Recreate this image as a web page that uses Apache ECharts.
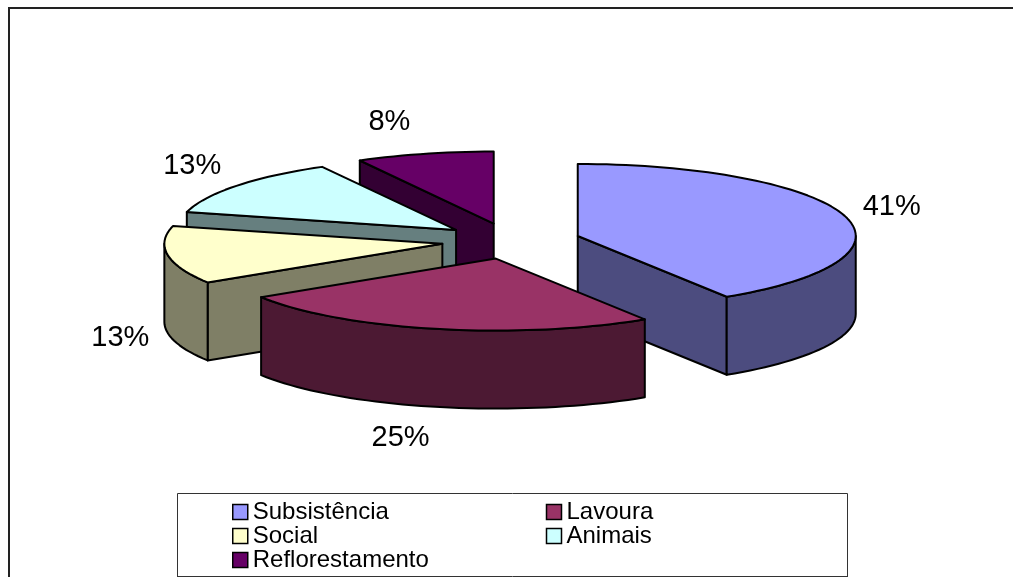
<!DOCTYPE html>
<html>
<head>
<meta charset="utf-8">
<script src="https://cdn.jsdelivr.net/npm/echarts@6/dist/echarts.min.js"></script>
<style>
html, body { margin: 0; padding: 0; background: #fff; }
#chart { width: 1013px; height: 577px; }
</style>
</head>
<body>
<div id="chart"></div>
<script>
// data
var categories = ['Subsistência', 'Lavoura', 'Social', 'Animais', 'Reflorestamento'];
var values = [41, 25, 13, 13, 8];
var topColors = ['#9999FF', '#993366', '#FFFFCC', '#CCFFFF', '#660066'];
var sideColors = ['#4C4C7F', '#4C1933', '#7F7F66', '#667F7F', '#330033'];

//pie layout in pixels (3D look: flat ellipse + thickness)
var cx = 511, cy = 241, rx = 278, ry = 72, depth = 78, explode = 0.25;
var font = '"Liberation Sans", Arial, sans-serif';

var total = values.reduce(function (s, v) { return s + v; }, 0);
var starts = [];
var acc = 0;
values.forEach(function (v) { starts.push(acc / total * 360); acc += v; });

function rad(d) { return d * Math.PI / 180; }
//point on the rim, angle clockwise from 12 o'clock
function rim(p, deg, dy) {
    return [p[0] + rx * Math.sin(rad(deg)), p[1] - ry * Math.cos(rad(deg)) + (dy || 0)];
}
function arc(p, a, b, dy) {
    var pts = [];
    var n = Math.max(2, Math.ceil((b - a) / 2));
    for (var i = 0; i <= n; i++) pts.push(rim(p, a + (b - a) * i / n, dy));
    return pts;
}

function sliceItem(idx) {
    return function (params, api) {
        var v = api.value(0);
        var a = starts[idx], b = a + v / total * 360, m = (a + b) / 2;
        var s = Math.sin(rad(m)), c = Math.cos(rad(m));
        var p = [cx + explode * rx * s, cy - explode * ry * c];
        var kids = [];
        function poly(pts, fill) {
            kids.push({
                type: 'polygon',
                shape: { points: pts },
                style: { fill: fill, stroke: '#000', lineWidth: 2, lineJoin: 'round' }
            });
        }
        //radial side walls that face the viewer
        if (Math.sin(rad(a)) < -1e-6) {
            var r1 = rim(p, a);
            poly([p, r1, [r1[0], r1[1] + depth], [p[0], p[1] + depth]], sideColors[idx]);
        }
        if (Math.sin(rad(b)) > 1e-6) {
            var r2 = rim(p, b);
            poly([p, r2, [r2[0], r2[1] + depth], [p[0], p[1] + depth]], sideColors[idx]);
        }
        //front part of the outer wall
        var t1 = Math.max(a, 90), t2 = Math.min(b, 270);
        if (t2 > t1) {
            poly(arc(p, t1, t2, 0).concat(arc(p, t1, t2, depth).reverse()), sideColors[idx]);
        }
        //top face
        poly([p].concat(arc(p, a, b, 0)), topColors[idx]);
        //percentage label
        var lx = cx + 1.31 * rx * s + (s < 0 ? -31 : 31);
        var ly = cy - 1.7 * ry * c + (c < 0 ? depth : 0);
        kids.push({
            type: 'text',
            style: {
                text: Math.round(v / total * 100) + '%',
                x: lx, y: ly,
                align: 'center', verticalAlign: 'middle',
                font: '29px ' + font, fill: '#000'
            }
        });
        return { type: 'group', children: kids };
    };
}

//draw back slices first
var ranks = [];
var byDepth = values.map(function (v, i) {
    var m = starts[i] + v / total * 180;
    return { i: i, c: Math.cos(rad(m)) };
}).sort(function (x, y) { return y.c - x.c; });
byDepth.forEach(function (d, k) { ranks[d.i] = k; });

var chart = echarts.init(document.getElementById('chart'));

var option = {
    animation: false,
    graphic: [
        {
            //outer frame, only left and top edges are inside the picture
            type: 'line', z: 0, silent: true,
            shape: { x1: 9, y1: 8, x2: 9, y2: 600 },
            style: { stroke: '#222', lineWidth: 2 }
        },
        {
            type: 'line', z: 0, silent: true,
            shape: { x1: 8, y1: 8, x2: 1030, y2: 8 },
            style: { stroke: '#222', lineWidth: 2 }
        },
        {
            type: 'polyline', z: 0, silent: true,
            shape: { points: [[177.5, 600], [177.5, 493.5], [847.5, 493.5], [847.5, 600]] },
            style: { fill: null, stroke: '#333', lineWidth: 1 }
        },
        {
            type: 'line', z: 0, silent: true,
            shape: { x1: 177.5, y1: 576.5, x2: 847.5, y2: 576.5 },
            style: { stroke: '#333', lineWidth: 1 }
        }
    ],
    legend: {
        data: categories,
        left: 232,
        top: 500,
        width: 640,
        padding: 0,
        itemGap: 0,
        itemWidth: 15,
        itemHeight: 15,
        icon: 'rect',
        selectedMode: false,
        itemStyle: { borderColor: '#000', borderWidth: 1.5 },
        textStyle: {
            fontFamily: font,
            fontSize: 24,
            color: '#000',
            width: 293,
            lineHeight: 23
        }
    },
    series: categories.map(function (name, i) {
        return {
            type: 'custom',
            name: name,
            coordinateSystem: 'none',
            silent: true,
            z: 2 + ranks[i],
            itemStyle: { color: topColors[i] },
            data: [[values[i]]],
            renderItem: sliceItem(i)
        };
    })
};

chart.setOption(option);
</script>
</body>
</html>
